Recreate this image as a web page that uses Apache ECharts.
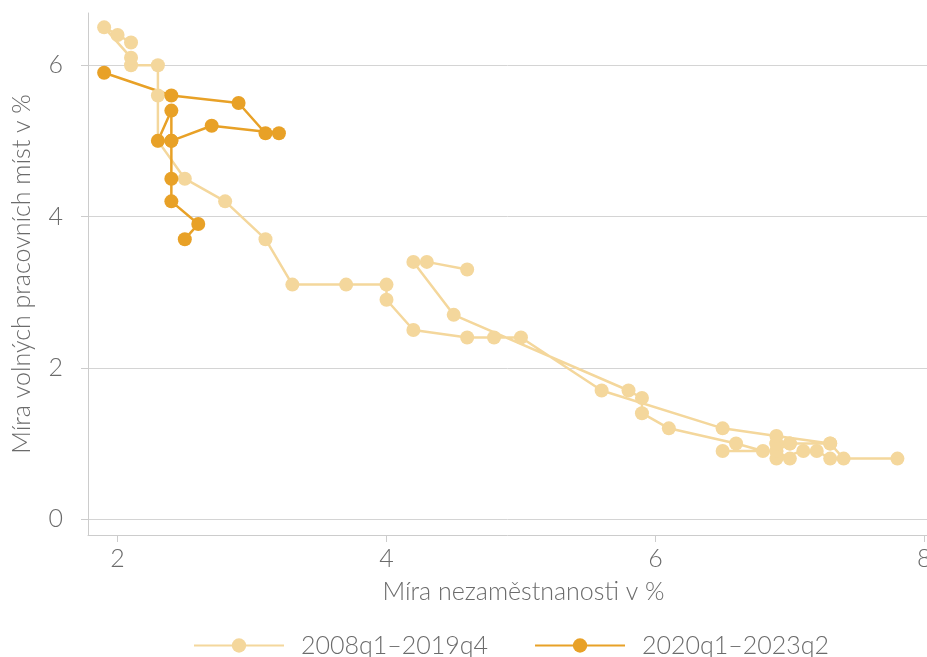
<!DOCTYPE html>
<html><head><meta charset="utf-8">
<script src="https://cdn.jsdelivr.net/npm/echarts@6/dist/echarts.min.js"></script>
<style>html,body{margin:0;padding:0;background:#fff}#c{width:927px;height:657px}</style>
</head><body><div id="c"></div>
<script>
const seriesNames = ['2008q1–2019q4', '2020q1–2023q2'];
const unemp1 = [4.6,4.3,4.2,4.5,5.8,5.9,5.9,6.1,6.6,6.8,6.5,6.9,7.0,7.3,7.4,7.8,7.3,7.2,7.1,6.9,7.0,6.9,6.9,7.0,6.9,7.3,6.9,6.5,5.6,5.0,4.8,4.6,4.2,4.0,4.0,3.7,3.3,3.1,2.8,2.5,2.3,2.3,2.3,2.1,2.1,1.9,2.0,2.1];
const vac1   = [3.3,3.4,3.4,2.7,1.7,1.6,1.4,1.2,1.0,0.9,0.9,0.9,1.0,1.0,0.8,0.8,0.8,0.9,0.9,0.8,0.8,0.9,1.0,1.0,1.0,1.0,1.1,1.2,1.7,2.4,2.4,2.4,2.5,2.9,3.1,3.1,3.1,3.7,4.2,4.5,5.0,5.6,6.0,6.0,6.1,6.5,6.4,6.3];
const unemp2 = [1.9,2.4,2.9,3.1,3.2,2.7,2.4,2.3,2.4,2.4,2.4,2.4,2.6,2.5];
const vac2   = [5.9,5.6,5.5,5.1,5.1,5.2,5.0,5.0,5.4,5.0,4.5,4.2,3.9,3.7];
const xTicks = [2, 4, 6, 8];
const yTicks = [0, 2, 4, 6];
const xTitle = 'Míra nezaměstnanosti v %';
const yTitle = 'Míra volných pracovních míst v %';

const pairs = (xs, ys) => xs.map((x, i) => [x, ys[i]]);
const FONT = 'Lato';
const GREY = '#6b6b6b';
const AXIS = '#cccccc';
const LIGHT = '#F4D79C';
const ORANGE = '#E8A127';

const chart = echarts.init(document.getElementById('c'), null, {renderer: 'canvas'});
chart.setOption({
  animation: false,
  textStyle: {fontFamily: FONT},
  grid: {left: 88, right: 0, top: 13, bottom: 122, containLabel: false, outerBoundsMode: 'none'},
  xAxis: {
    type: 'value', min: 1.78, max: 8.02,
    name: xTitle, nameLocation: 'middle', nameGap: 44,
    nameTextStyle: {fontFamily: FONT, fontSize: 25, fontWeight: 300, color: GREY, padding: [0, 0, 0, 32]},
    axisLine: {show: true, onZero: false, lineStyle: {color: AXIS, width: 1}},
    axisTick: {show: true, length: 7, customValues: xTicks, lineStyle: {color: AXIS}},
    axisLabel: {customValues: xTicks, fontFamily: FONT, fontSize: 25, fontWeight: 300, color: GREY, margin: 11, hideOverlap: false},
    splitLine: {show: false}
  },
  yAxis: {
    type: 'value', min: -0.21, max: 6.69,
    name: yTitle, nameLocation: 'middle', nameGap: 54,
    nameTextStyle: {fontFamily: FONT, fontSize: 25, fontWeight: 300, color: GREY},
    axisLine: {show: true, onZero: false, lineStyle: {color: AXIS, width: 1}},
    axisTick: {show: true, length: 7, customValues: yTicks, lineStyle: {color: AXIS}},
    axisLabel: {customValues: yTicks, fontFamily: FONT, fontSize: 25, fontWeight: 300, color: GREY, margin: 25},
    splitLine: {show: true, lineStyle: {color: '#d4d4d4', width: 1}}
  },
  legend: {
    bottom: -6, left: 188,
    itemWidth: 90, itemHeight: 18, itemGap: 46,
    textStyle: {fontFamily: FONT, fontSize: 25, fontWeight: 300, color: GREY, padding: [0, 0, 0, 12]},
    data: seriesNames
  },
  series: [
    {
      name: seriesNames[0], type: 'line', data: pairs(unemp1, vac1),
      symbol: 'circle', symbolSize: 14, showAllSymbol: true,
      lineStyle: {color: LIGHT, width: 2.5},
      itemStyle: {color: LIGHT}
    },
    {
      name: seriesNames[1], type: 'line', data: pairs(unemp2, vac2),
      symbol: 'circle', symbolSize: 14, showAllSymbol: true,
      lineStyle: {color: ORANGE, width: 2.5},
      itemStyle: {color: ORANGE}
    }
  ]
});
</script>
</body></html>
